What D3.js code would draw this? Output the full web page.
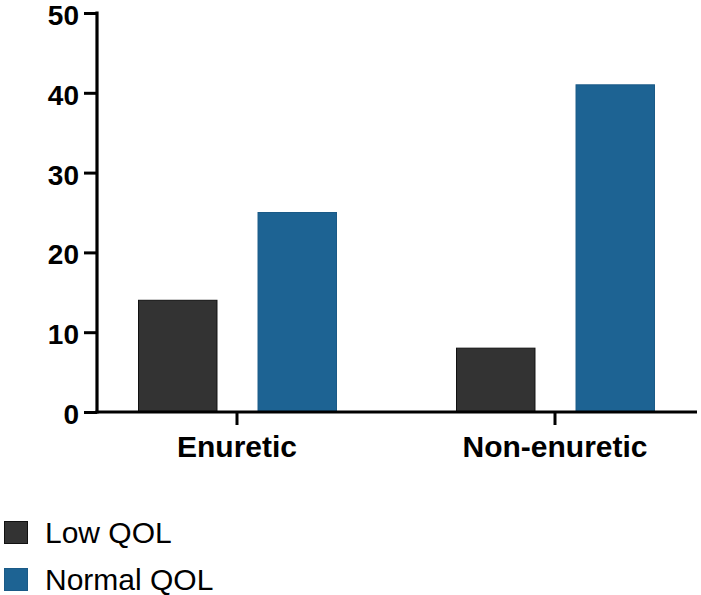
<!DOCTYPE html>
<html><head><meta charset="utf-8">
<script src="https://cdn.jsdelivr.net/npm/d3@7"></script>
<style>body{margin:0;background:#fff}svg{display:block}</style>
</head><body>
<svg id="c" width="701" height="595"></svg>
<script>
const categories = ["Enuretic", "Non-enuretic"];
const series = ["Low QOL", "Normal QOL"];
const lowQOL = [14, 8];
const normalQOL = [25, 41];
const yTicks = [0, 10, 20, 30, 40, 50];
const colors = ["#333333", "#1d6393"];
const strokes = ["#111111", "#1a5a87"];

const svg = d3.select("#c");
const font = "'Liberation Sans', Arial, sans-serif";
const y = d3.scaleLinear().domain([0, 50]).range([412, 13]);
const x = d3.scaleBand().domain(categories).range([78, 714]).padding(0);
const xi = d3.scaleBand().domain(series).range([60, 259]).paddingInner(0.335).paddingOuter(0);

const values = [lowQOL, normalQOL];
const data = [];
categories.forEach((c, i) => series.forEach((s, j) => data.push({c, s, j, v: values[j][i]})));

svg.selectAll("rect.bar").data(data).enter().append("rect")
  .attr("class", "bar")
  .attr("x", d => x(d.c) + xi(d.s) + 0.5)
  .attr("width", xi.bandwidth() - 1)
  .attr("y", d => y(d.v))
  .attr("height", d => y(0) - y(d.v))
  .attr("fill", d => colors[d.j])
  .attr("stroke", d => strokes[d.j])
  .attr("stroke-width", 1);

// y axis
const ya = svg.append("g").attr("transform", "translate(97,0)")
  .call(d3.axisLeft(y).tickValues(yTicks).tickSize(13).tickPadding(5).tickSizeOuter(0));
ya.select(".domain").attr("stroke", "#000").attr("stroke-width", 3.2)
  .attr("d", `M0,${y(50)-1.5}V${y(0)+1.5}`);
ya.selectAll(".tick line").attr("stroke", "#000").attr("stroke-width", 3);
ya.selectAll(".tick text").attr("font-family", font).attr("font-weight", "bold")
  .attr("font-size", 28).attr("fill", "#000").attr("dy", "0.41em");

// x axis
const xa = svg.append("g").attr("transform", `translate(0,${y(0)})`)
  .call(d3.axisBottom(x).tickSize(13).tickPadding(10).tickSizeOuter(0));
xa.select(".domain").attr("stroke", "#000").attr("stroke-width", 3.2)
  .attr("d", "M95.5,0H697");
xa.selectAll(".tick line").attr("stroke", "#000").attr("stroke-width", 3);
xa.selectAll(".tick text").attr("font-family", font).attr("font-weight", "bold")
  .attr("font-size", 30).attr("fill", "#000").attr("dy", "0.72em");

// legend
const lg = svg.append("g");
series.forEach((s, j) => {
  const yy = 521 + j * 47;
  lg.append("rect").attr("x", 4.5).attr("y", yy + 0.5).attr("width", 23).attr("height", 22)
    .attr("fill", colors[j]).attr("stroke", strokes[j]).attr("stroke-width", 1);
  lg.append("text").attr("x", 45).attr("y", yy + 22).text(s)
    .attr("font-family", font).attr("font-size", 30).attr("fill", "#000");
});
</script>
</body></html>
